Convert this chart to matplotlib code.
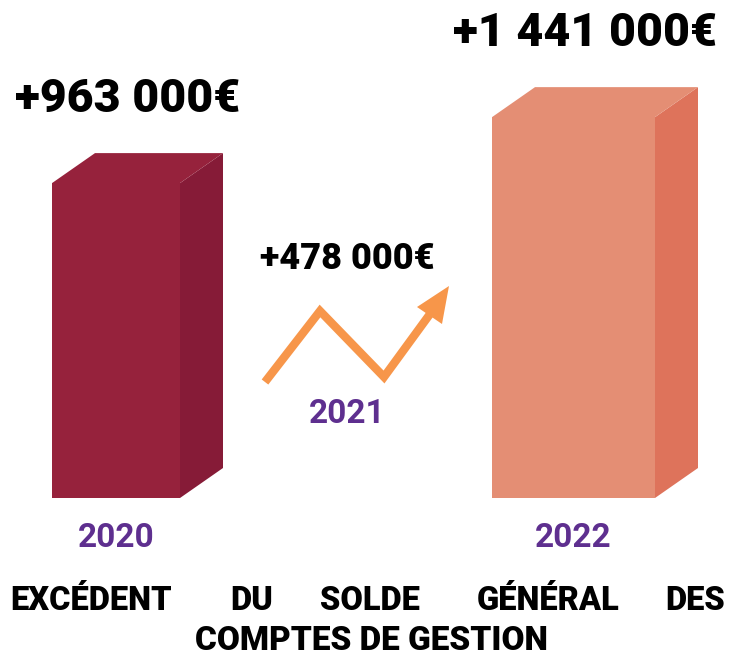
import matplotlib.pyplot as plt
from matplotlib.patches import Polygon

years = ['2020', '2022']
values = [963000, 1441000]
mid_year = '2021'
title_words = ['EXCÉDENT', 'DU', 'SOLDE', 'GÉNÉRAL', 'DES']
title_line2 = 'COMPTES DE GESTION'

front_colors = ['#96223C', '#E48E74']
side_colors = ['#861B37', '#DE735B']
purple = '#5E2F8F'
orange = '#F7964A'
FONT = 'Roboto'

def fmt(v):
    return '+' + f'{v:,}'.replace(',', ' ') + '€'

def top_px(v):
    # bar top in pixel coords, baseline at 498
    return 498 - (182 + 0.138 * v / 1000)

fig = plt.figure(figsize=(7.35, 6.57), dpi=100)
ax = fig.add_axes([0, 0, 1, 1])
ax.set_xlim(0, 735)
ax.set_ylim(657, 0)
ax.axis('off')

lefts = [52, 492]
widths = [128, 163]
dx, dy = 43, -30
base = 498

for i in range(len(years)):
    x0 = lefts[i]
    x1 = x0 + widths[i]
    t = top_px(values[i])
    # front
    ax.add_patch(Polygon([(x0, base), (x1, base), (x1, t), (x0, t)],
                         closed=True, fc=front_colors[i], ec='none'))
    # side
    ax.add_patch(Polygon([(x1, base), (x1 + dx, base + dy), (x1 + dx, t + dy), (x1, t)],
                         closed=True, fc=side_colors[i], ec='none'))
    # top
    ax.add_patch(Polygon([(x0, t), (x1, t), (x1 + dx, t + dy), (x0 + dx, t + dy)],
                         closed=True, fc=front_colors[i], ec='none'))
    ax.text((x0 + x1) / 2 + 12, t - 84, fmt(values[i]), fontsize=33.5, fontweight='black',
            family=FONT, ha='center', va='center', color='black')
    ax.text((x0 + x1) / 2, 538, years[i], fontsize=24, fontweight='bold',
            family=FONT, ha='center', va='center', color=purple)

# middle zigzag arrow
zx = [265, 320, 384, 430]
zy = [382, 311, 377, 314]
ax.plot(zx, zy, color=orange, lw=6, solid_joinstyle='miter', solid_capstyle='butt')
ax.add_patch(Polygon([(449, 286), (417, 307), (442, 324)], closed=True,
                     fc=orange, ec='none'))
ax.text(347, 259, fmt(values[1] - values[0]), fontsize=26, fontweight='black',
        family=FONT, ha='center', va='center', color='black')
ax.text(347, 414, mid_year, fontsize=24, fontweight='bold',
        family=FONT, ha='center', va='center', color=purple)

# justified title
word_x = [10, 252, 370, 548, 725]
for i, w in enumerate(title_words):
    if i == 0:
        ha = 'left'
    elif i == len(title_words) - 1:
        ha = 'right'
    else:
        ha = 'center'
    ax.text(word_x[i], 601, w, fontsize=23.5, fontweight='black', family=FONT,
            ha=ha, va='center', color='black')
ax.text(371, 641, title_line2, fontsize=24, fontweight='black', family=FONT,
        ha='center', va='center', color='black')

fig.savefig('out.png', dpi=100)
